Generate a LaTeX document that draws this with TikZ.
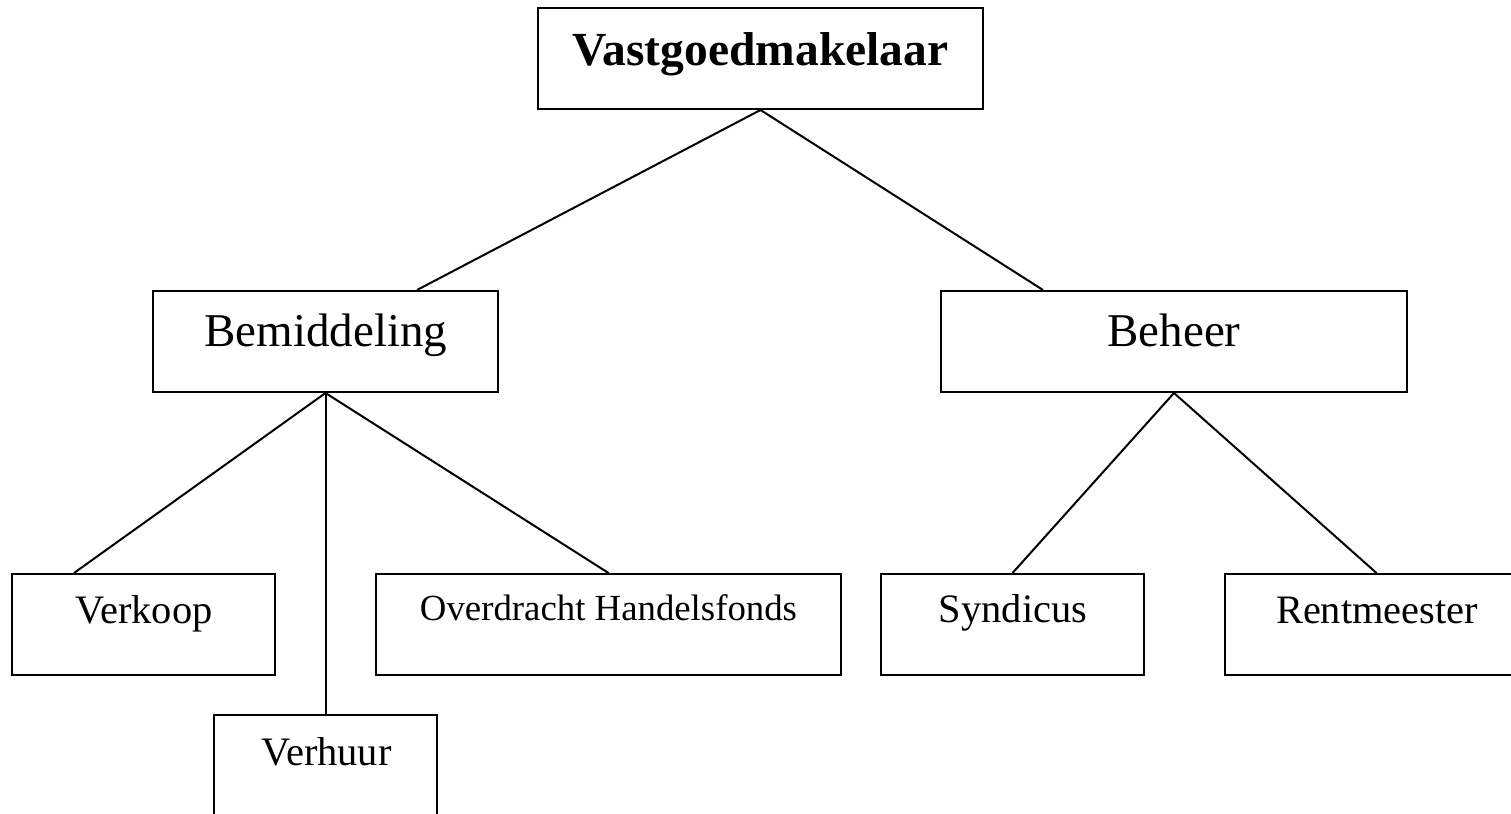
\documentclass[tikz,border=0pt]{standalone}
\usepackage{fontspec}
\setmainfont{Liberation Serif}
\begin{document}
\begin{tikzpicture}[x=1pt,y=-1pt,
  box/.style={draw,line width=2pt,rectangle,inner sep=0pt,minimum width=#1,minimum height=101pt},
  big/.style={anchor=base,inner sep=0pt,font=\fontsize{47}{50}\selectfont},
  mid/.style={anchor=base,inner sep=0pt,font=\fontsize{40.4}{43}\selectfont},
  small/.style={anchor=base,inner sep=0pt,font=\fontsize{36.8}{40}\selectfont},
  link/.style={line width=2pt}]
\useasboundingbox (0,0) rectangle (1511,813);
\clip (0,0) rectangle (1511,813);
% boxes
\node[box=445pt] (vg) at (760.5,58.5) {};
\node[box=345pt] (bem) at (325.5,341.5) {};
\node[box=466pt] (beh) at (1174,341.5) {};
\node[box=263pt] (verk) at (143.5,624.5) {};
\node[box=465pt] (over) at (608.5,624.5) {};
\node[box=263pt] (synd) at (1012.5,624.5) {};
\node[box=303pt] (rent) at (1376.5,624.5) {};
\node[box=223pt] (verh) at (325.5,765.5) {};
% texts
\node[big,font=\fontsize{47.5}{50}\selectfont\bfseries] (tvg) at (760.5,66) {Vastgoedmakelaar};
\node[big] (tbem) at (326,346) {Bemiddeling};
\node[big] (tbeh) at (1174,346) {Beheer};
\node[mid] (tverk) at (144,623) {Verkoop};
\node[small] (tover) at (608.5,620) {Overdracht Handelsfonds};
\node[mid] (tsynd) at (1013,622) {Syndicus};
\node[mid] (trent) at (1377,623) {Rentmeester};
\node[mid] (tverh) at (326.5,765) {Verhuur};
% connectors
\draw[link] (vg.south) -- ([xshift=91.5pt]bem.north);
\draw[link] (vg.south) -- ([xshift=-131pt]beh.north);
\draw[link] (bem.south) -- ([xshift=-69.5pt]verk.north);
\draw[link] (bem.south) -- (verh.north);
\draw[link] (bem.south) -- (over.north);
\draw[link] (beh.south) -- (synd.north);
\draw[link] (beh.south) -- (rent.north);
\end{tikzpicture}
\end{document}
